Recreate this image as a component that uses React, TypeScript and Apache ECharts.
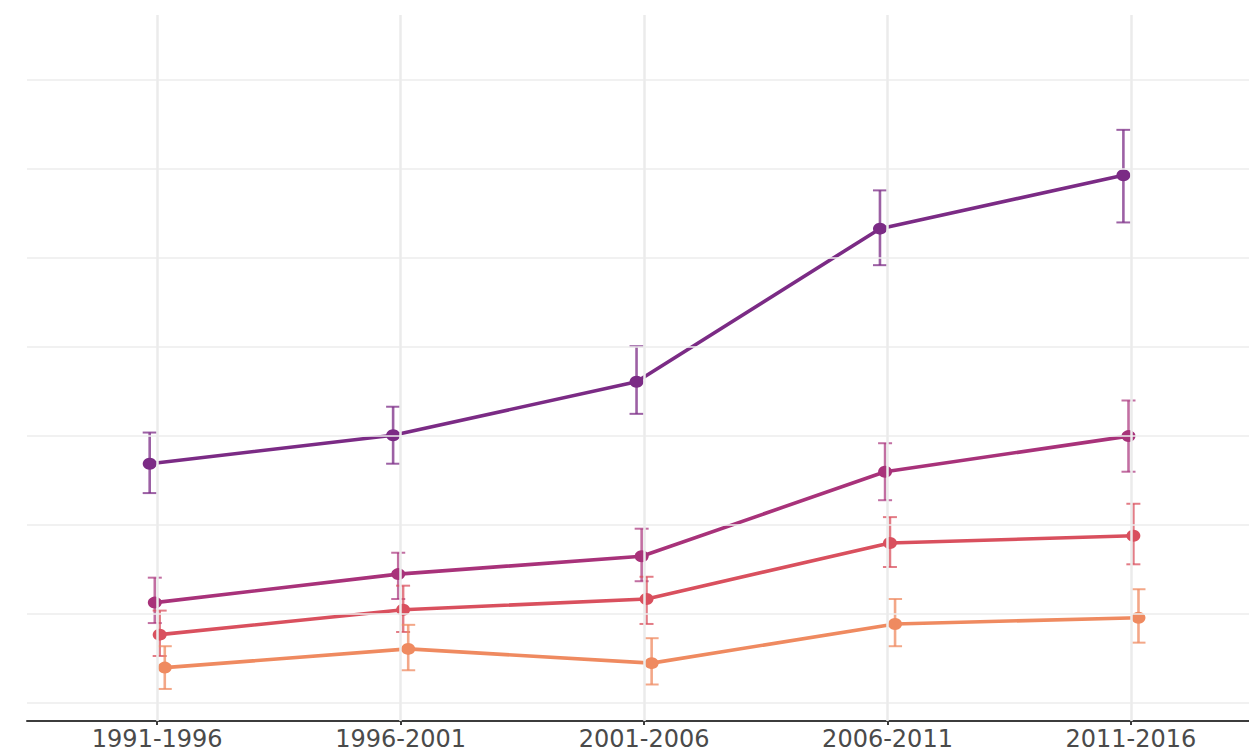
import React, { useEffect, useRef } from "react";
import * as echarts from "echarts";

const categories = ["1991-1996", "1996-2001", "2001-2006", "2006-2011", "2011-2016"];

const groupNames = ["Group A", "Group B", "Group C", "Group D"];
const groupColors = ["#7b2b85", "#a8327a", "#d9505e", "#ef8a60"];
const groupBarColors = ["rgba(123,43,133,0.75)", "rgba(168,50,122,0.7)", "rgba(217,80,94,0.75)", "rgba(239,138,96,0.75)"];
const dodge = [-0.031, -0.01, 0.01, 0.031];

const meanA = [2.69, 3.01, 3.61, 5.33, 5.93];
const lowA = [2.36, 2.69, 3.25, 4.92, 5.4];
const highA = [3.04, 3.33, 4.01, 5.76, 6.44];

const meanB = [1.13, 1.45, 1.65, 2.6, 3.0];
const lowB = [0.9, 1.17, 1.37, 2.28, 2.6];
const highB = [1.41, 1.69, 1.96, 2.92, 3.4];

const meanC = [0.77, 1.05, 1.17, 1.8, 1.88];
const lowC = [0.53, 0.8, 0.89, 1.53, 1.56];
const highC = [1.04, 1.32, 1.42, 2.09, 2.24];

const meanD = [0.4, 0.61, 0.45, 0.89, 0.96];
const lowD = [0.16, 0.37, 0.21, 0.64, 0.68];
const highD = [0.64, 0.88, 0.73, 1.17, 1.28];

const yGridValues = [0, 1, 2, 3, 4, 5, 6, 7];
const xGridValues = [0, 1, 2, 3, 4];

const means = [meanA, meanB, meanC, meanD];
const lows = [lowA, lowB, lowC, lowD];
const highs = [highA, highB, highC, highD];

export default function App() {
  const ref = useRef<HTMLDivElement>(null);
  useEffect(() => {
    if (!ref.current) return;
    const chart = echarts.init(ref.current, null, { renderer: "svg" });

    const series: any[] = [];
    // gridlines
    series.push({
      type: "line",
      data: [],
      silent: true,
      z: 0,
      markLine: {
        silent: true,
        symbol: "none",
        label: { show: false },
        animation: false,
        data: [
          ...yGridValues.map((v) => ({ yAxis: v, lineStyle: { color: "#ececec", width: 1.5, type: "solid" } })),
          ...xGridValues.map((v) => ({ xAxis: v, lineStyle: { color: "#ebebeb", width: 2.5, type: "solid" } })),
        ],
      },
    });

    for (let g = 0; g < 4; g++) {
      const barData = categories.map((_, i) => [i + dodge[g], lows[g][i], highs[g][i]]);
      const color = groupBarColors[g];
      series.push({
        type: "custom",
        name: groupNames[g] + " CI",
        z: 2,
        encode: { x: 0, y: [1, 2] },
        data: barData,
        renderItem: (params: any, api: any) => {
          const x = api.value(0);
          const pLo = api.coord([x, api.value(1)]);
          const pHi = api.coord([x, api.value(2)]);
          const half = 7;
          const vst = { stroke: color, lineWidth: 2.6 };
          const cst = { stroke: color, lineWidth: 2 };
          return {
            type: "group",
            children: [
              { type: "line", shape: { x1: pLo[0], y1: pLo[1], x2: pHi[0], y2: pHi[1] }, style: vst },
              { type: "line", shape: { x1: pLo[0] - half, y1: pLo[1], x2: pLo[0] + half, y2: pLo[1] }, style: cst },
              { type: "line", shape: { x1: pHi[0] - half, y1: pHi[1], x2: pHi[0] + half, y2: pHi[1] }, style: cst },
            ],
          };
        },
      });
      series.push({
        type: "line",
        name: groupNames[g],
        z: 3,
        data: categories.map((_, i) => [i + dodge[g], means[g][i]]),
        symbol: "circle",
        symbolSize: [14, 12],
        showSymbol: true,
        lineStyle: { color: groupColors[g], width: 3.6 },
        itemStyle: { color: groupColors[g] },
      });
    }

    chart.setOption({
      animation: false,
      backgroundColor: "#ffffff",
      grid: { left: 27, right: 0, top: 15, bottom: 32, containLabel: false },
      xAxis: {
        type: "value",
        min: -0.535,
        max: 4.485,
        splitLine: { show: false },
        axisLine: { show: true, onZero: false, lineStyle: { color: "#3c3c3c", width: 2 } },
        axisTick: {
          show: true,
          customValues: xGridValues,
          length: 4,
          lineStyle: { color: "#3c3c3c", width: 2 },
        },
        axisLabel: {
          show: true,
          customValues: xGridValues,
          formatter: (v: number) => categories[Math.round(v)] ?? "",
          fontSize: 24,
          lineHeight: 24,
          fontFamily: "DejaVu Sans",
          color: "#4a4a4a",
          margin: 6,
        },
      },
      yAxis: {
        type: "value",
        min: -0.2,
        max: 7.73,
        axisLabel: { show: false },
        axisLine: { show: false },
        axisTick: { show: false },
        splitLine: { show: false },
      },
      series,
    });

    return () => chart.dispose();
  }, []);

  return (
    <div
      ref={ref}
      style={{ position: "fixed", left: 0, top: 0, width: 1249, height: 753, background: "#fff" }}
    />
  );
}
